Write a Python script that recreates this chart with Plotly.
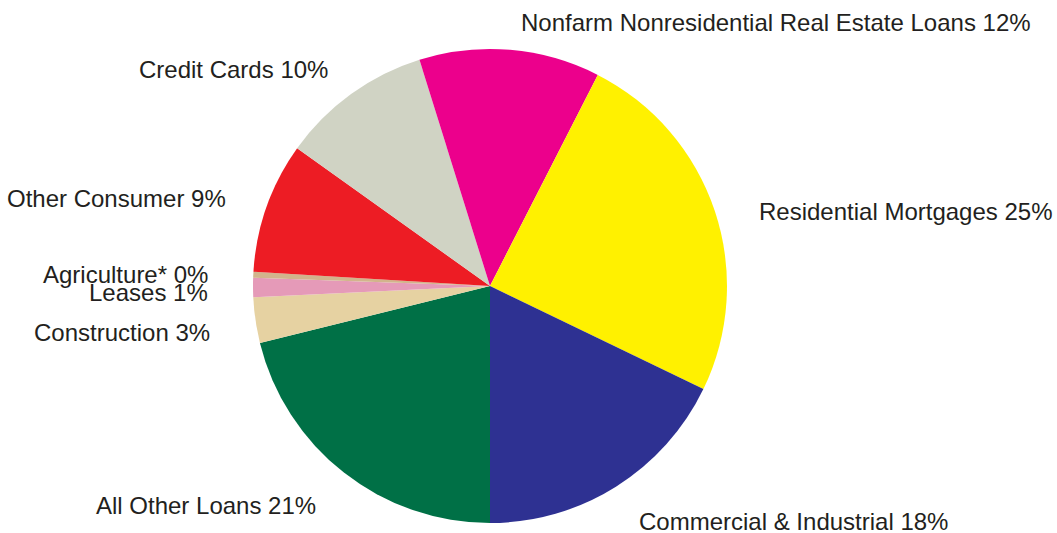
import plotly.graph_objects as go

W, H = 1057, 533

labels = ["All Other Loans", "Construction", "Leases", "Agriculture*", "Other Consumer",
          "Credit Cards", "Nonfarm Nonresidential Real Estate Loans",
          "Residential Mortgages", "Commercial & Industrial"]
values = [21.1, 3.1, 1.3, 0.4, 8.9, 10.3, 12.3, 24.6, 17.8]
shown_pct = [21, 3, 1, 0, 9, 10, 12, 25, 18]
colors = ["#007046", "#E6D2A2", "#E59AB8", "#D2B48C", "#ED1C24",
          "#D0D3C4", "#EC008C", "#FFF100", "#2E3192"]

# label anchor positions (pixels) and alignment
label_pos = [(318, 505, "right"), (212, 332, "right"), (210, 292, "right"),
             (210, 274, "right"), (228, 198, "right"), (330, 69, "right"),
             (519, 22, "left"), (757, 211, "left"), (637, 521, "left")]

cx, cy, r = 490, 286, 237

fig = go.Figure(go.Pie(
    labels=labels, values=values, sort=False, direction="clockwise", rotation=180,
    marker=dict(colors=colors, line=dict(width=0)),
    textinfo="none", hoverinfo="label+percent", showlegend=False,
    domain=dict(x=[(cx - r) / W, (cx + r) / W], y=[(H - cy - r) / H, (H - cy + r) / H]),
))

for lab, p, (x, y, anc) in zip(labels, shown_pct, label_pos):
    fig.add_annotation(text=f"{lab} {p}%", x=x / W, y=1 - y / H, xref="paper", yref="paper",
                       xanchor=anc, yanchor="middle", showarrow=False,
                       font=dict(family="Liberation Sans, Arial", size=24, color="#231F20"))

fig.update_layout(width=W, height=H, margin=dict(l=0, r=0, t=0, b=0),
                  paper_bgcolor="white", plot_bgcolor="white")
fig.write_html("out.html", config={"displayModeBar": False},
               post_script="document.body.style.margin='0px';document.body.style.overflow='hidden';")
